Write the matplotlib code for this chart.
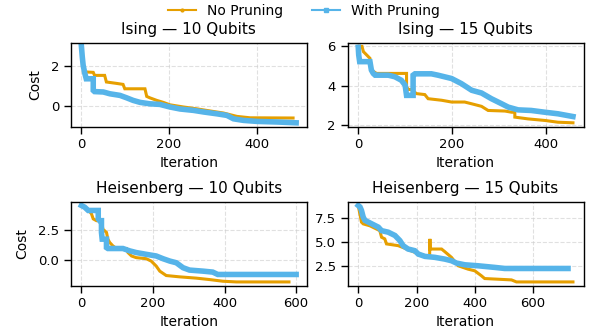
import matplotlib
matplotlib.use('Agg')
import matplotlib.pyplot as plt
from matplotlib.lines import Line2D

c_np = '#E69F00'
c_wp = '#56B4E9'

# Ising 10 qubits
ising10_it_np = [0, 2, 4, 8, 11, 27, 30, 53, 57, 80, 95, 99, 145, 149, 156, 172, 187, 202, 233, 263, 294, 324, 355, 385, 483]
ising10_np = [3.0, 2.5, 2.1, 1.75, 1.72, 1.7, 1.55, 1.55, 1.22, 1.15, 1.1, 0.88, 0.88, 0.5, 0.43, 0.3, 0.2, 0.08, -0.03, -0.12, -0.23, -0.33, -0.5, -0.57, -0.58]
ising10_it_wp = [0, 2, 4, 8, 11, 27, 27, 30, 50, 65, 88, 103, 118, 134, 156, 179, 202, 225, 256, 279, 309, 332, 347, 370, 401, 447, 490]
ising10_wp = [3.0, 2.47, 2.05, 1.63, 1.38, 1.38, 0.8, 0.74, 0.72, 0.63, 0.55, 0.43, 0.3, 0.2, 0.13, 0.1, -0.03, -0.13, -0.2, -0.28, -0.37, -0.45, -0.62, -0.7, -0.75, -0.78, -0.82]

# Ising 15 qubits
ising15_it_np = [0, 8, 11, 18, 25, 28, 39, 103, 103, 107, 114, 124, 142, 149, 178, 199, 227, 242, 263, 277, 313, 327, 334, 334, 362, 398, 426, 458]
ising15_np = [6.0, 6.0, 5.73, 5.56, 5.39, 4.79, 4.62, 4.62, 3.93, 3.8, 3.8, 3.59, 3.54, 3.33, 3.25, 3.16, 3.16, 3.07, 2.94, 2.73, 2.7, 2.64, 2.64, 2.39, 2.3, 2.22, 2.13, 2.1]
ising15_it_wp = [0, 1, 3, 25, 28, 32, 36, 64, 78, 92, 100, 103, 117, 117, 121, 156, 170, 199, 220, 242, 263, 284, 306, 320, 341, 369, 398, 426, 458]
ising15_wp = [5.95, 5.56, 5.22, 5.22, 4.79, 4.62, 4.53, 4.53, 4.45, 4.27, 4.02, 3.5, 3.5, 4.53, 4.6, 4.6, 4.53, 4.36, 4.1, 3.76, 3.62, 3.33, 3.07, 2.9, 2.76, 2.73, 2.64, 2.56, 2.42]

# Heisenberg 10 qubits
heis10_it_np = [0, 10, 20, 28, 33, 42, 56, 60, 70, 74, 79, 88, 98, 126, 130, 140, 153, 181, 195, 209, 219, 237, 274, 321, 358, 395, 433, 580]
heis10_np = [4.6, 4.4, 4.2, 3.9, 3.47, 3.32, 3.32, 2.6, 2.33, 1.76, 1.48, 1.19, 0.97, 0.97, 0.63, 0.34, 0.2, 0.11, -0.09, -0.51, -0.94, -1.31, -1.42, -1.53, -1.65, -1.79, -1.85, -1.85]
heis10_it_wp = [0, 9, 19, 47, 47, 51, 56, 56, 58, 70, 70, 74, 116, 135, 153, 181, 209, 228, 247, 265, 284, 302, 340, 367, 381, 600]
heis10_wp = [4.6, 4.46, 4.18, 4.18, 3.47, 3.32, 3.32, 2.33, 1.76, 1.76, 1.05, 0.97, 0.97, 0.77, 0.63, 0.48, 0.34, 0.11, -0.09, -0.23, -0.65, -0.85, -0.94, -1.02, -1.22, -1.22]

# Heisenberg 15 qubits
heis15_it_np = [0, 11, 17, 40, 74, 80, 91, 97, 137, 160, 194, 229, 245, 246, 247, 286, 297, 320, 343, 377, 400, 423, 434, 480, 526, 543, 737]
heis15_np = [8.8, 7.08, 6.9, 6.7, 6.2, 5.52, 5.35, 4.83, 4.65, 4.38, 3.96, 3.61, 3.6, 5.35, 4.3, 4.3, 4.03, 3.44, 2.57, 2.22, 2.05, 1.53, 1.25, 1.18, 1.11, 0.9, 0.9]
heis15_it_wp = [0, 6, 11, 17, 23, 46, 69, 80, 103, 126, 143, 154, 171, 194, 206, 229, 263, 297, 320, 337, 366, 411, 469, 503, 720]
heis15_wp = [8.8, 8.65, 8.3, 7.6, 7.26, 6.91, 6.56, 6.2, 6.04, 5.7, 5.17, 4.65, 4.3, 4.13, 3.78, 3.54, 3.44, 3.26, 3.09, 2.85, 2.67, 2.57, 2.4, 2.29, 2.29]

panels = [
    ('Ising — 10 Qubits', ising10_it_np, ising10_np, ising10_it_wp, ising10_wp, [0, 2], [0, 200, 400]),
    ('Ising — 15 Qubits', ising15_it_np, ising15_np, ising15_it_wp, ising15_wp, [2, 4, 6], [0, 200, 400]),
    ('Heisenberg — 10 Qubits', heis10_it_np, heis10_np, heis10_it_wp, heis10_wp, [0.0, 2.5], [0, 200, 400, 600]),
    ('Heisenberg — 15 Qubits', heis15_it_np, heis15_np, heis15_it_wp, heis15_wp, [2.5, 5.0, 7.5], [0, 200, 400, 600]),
]

fig = plt.figure(figsize=(5.89, 3.35), dpi=100)
positions = [
    [0.120, 0.622, 0.401, 0.251],
    [0.590, 0.622, 0.401, 0.251],
    [0.120, 0.147, 0.401, 0.251],
    [0.590, 0.147, 0.401, 0.251],
]

for i, (title, x1, y1, x2, y2, yt, xt) in enumerate(panels):
    ax = fig.add_axes(positions[i])
    ax.plot(x1, y1, color=c_np, lw=2.2, solid_joinstyle='miter')
    ax.plot(x2, y2, color=c_wp, lw=4.0, solid_joinstyle='miter')
    ax.set_title(title, fontsize=11, pad=6)
    ax.set_xlabel('Iteration', fontsize=10, labelpad=3.5)
    if i % 2 == 0:
        ax.set_ylabel('Cost', fontsize=10, labelpad=6)
    ax.set_yticks(yt)
    ax.set_xticks(xt)
    ax.tick_params(labelsize=9.5, length=4.8, width=1.0, pad=3.5)
    ax.grid(True, linestyle='--', color='#cccccc', alpha=0.6, lw=0.8)
    ax.set_axisbelow(True)
    for s in ax.spines.values():
        s.set_linewidth(1.0)

handles = [
    Line2D([], [], color=c_np, lw=1.5, marker='.', markersize=4),
    Line2D([], [], color=c_wp, lw=1.5, marker='s', markersize=3),
]
fig.legend(handles, ['No Pruning', 'With Pruning'], loc='upper center',
           bbox_to_anchor=(0.516, 1.025), ncol=2, frameon=False, fontsize=10,
           columnspacing=2.1, handlelength=2.0, handletextpad=0.8)

plt.savefig('out.png')
